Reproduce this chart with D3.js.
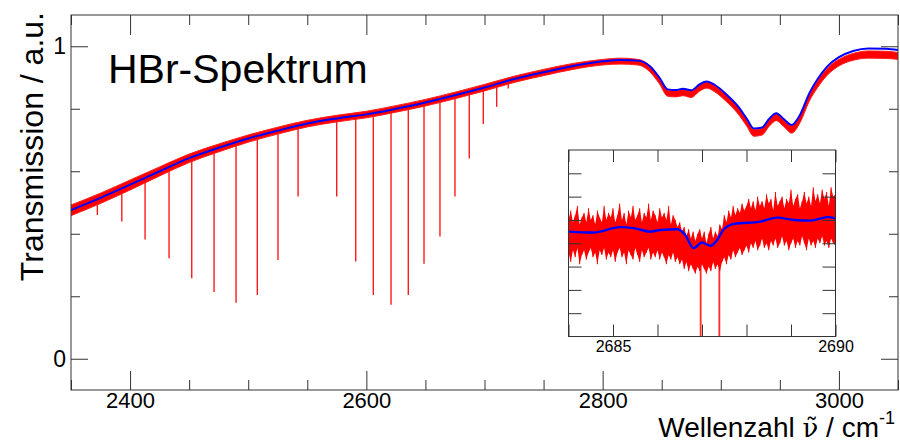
<!DOCTYPE html>
<html>
<head>
<meta charset="utf-8">
<script src="https://cdn.jsdelivr.net/npm/d3@7"></script>
<style>
body { margin: 0; background: #fff; }
text { font-family: "Liberation Sans", Arial, sans-serif; fill: #000; }
.axis path { display: none; }
.axis line { stroke: #333; }
</style>
</head>
<body>
<div id="chart"></div>
<script>
// main spectrum
var mainNu = [2350, 2375, 2400, 2425, 2450, 2475, 2500, 2525, 2550, 2575, 2600, 2625, 2650, 2675, 2700, 2725, 2750, 2775, 2800, 2815, 2830, 2840, 2848, 2855, 2862, 2868, 2875, 2882, 2888, 2895, 2905, 2915, 2922, 2928, 2935, 2941, 2947, 2953, 2960, 2967, 2975, 2982, 2990, 3000, 3012, 3025, 3040, 3050];
var blueT = [0.476, 0.515, 0.557, 0.600, 0.642, 0.675, 0.705, 0.730, 0.753, 0.769, 0.782, 0.800, 0.820, 0.843, 0.868, 0.895, 0.917, 0.937, 0.952, 0.956, 0.954, 0.936, 0.900, 0.862, 0.860, 0.864, 0.859, 0.878, 0.887, 0.876, 0.845, 0.806, 0.768, 0.737, 0.740, 0.768, 0.786, 0.768, 0.748, 0.780, 0.850, 0.895, 0.935, 0.965, 0.985, 0.993, 0.992, 0.988];
var redHi = [0.492, 0.530, 0.572, 0.614, 0.655, 0.687, 0.716, 0.741, 0.763, 0.779, 0.792, 0.810, 0.830, 0.853, 0.878, 0.904, 0.926, 0.945, 0.958, 0.962, 0.958, 0.938, 0.900, 0.860, 0.858, 0.862, 0.857, 0.876, 0.885, 0.874, 0.842, 0.803, 0.765, 0.734, 0.737, 0.765, 0.783, 0.765, 0.745, 0.777, 0.846, 0.890, 0.929, 0.958, 0.977, 0.985, 0.984, 0.980];
var redLo = [0.458, 0.497, 0.540, 0.585, 0.628, 0.662, 0.693, 0.719, 0.742, 0.758, 0.771, 0.789, 0.809, 0.832, 0.857, 0.884, 0.906, 0.926, 0.940, 0.943, 0.940, 0.918, 0.880, 0.840, 0.838, 0.842, 0.836, 0.856, 0.866, 0.854, 0.822, 0.782, 0.744, 0.712, 0.716, 0.744, 0.762, 0.744, 0.722, 0.755, 0.825, 0.868, 0.907, 0.937, 0.955, 0.962, 0.961, 0.958];

// absorption lines: position and lowest transmission
var lineNu = [2372.3, 2393.0, 2412.7, 2433.0, 2452.2, 2471.1, 2489.7, 2507.7, 2525.2, 2542.2, 2574.9, 2591.0, 2605.9, 2620.9, 2635.5, 2648.8, 2662.3, 2675.0, 2687.1, 2699.0, 2710.3, 2720.1];
var lineMin = [0.46, 0.439, 0.382, 0.322, 0.258, 0.214, 0.179, 0.204, 0.316, 0.519, 0.519, 0.311, 0.204, 0.173, 0.204, 0.304, 0.391, 0.519, 0.641, 0.751, 0.806, 0.865];

// inset (zoom on 2684 - 2690)
var insetBlueNu = [2684.0, 2684.56, 2685.16, 2685.46, 2685.84, 2686.06, 2686.44, 2686.62, 2686.81, 2687.0, 2687.19, 2687.34, 2687.49, 2687.72, 2688.32, 2688.69, 2689.07, 2689.44, 2689.82, 2690.0];
var insetBlueT = [0.855, 0.8546, 0.8569, 0.8565, 0.855, 0.8557, 0.856, 0.8536, 0.8479, 0.8503, 0.8489, 0.8514, 0.856, 0.8583, 0.8593, 0.861, 0.860, 0.8597, 0.8612, 0.8607];
// noisy measurement, sampled every 0.05 cm-1 from 2684
var insetHi = [0.860, 0.864, 0.859, 0.862, 0.866, 0.858, 0.861, 0.863, 0.859, 0.865,
	0.860, 0.862, 0.858, 0.864, 0.861, 0.859, 0.866, 0.860, 0.863, 0.861,
	0.865, 0.859, 0.862, 0.867, 0.860, 0.863, 0.858, 0.864, 0.861, 0.866,
	0.860, 0.862, 0.865, 0.859, 0.863, 0.861, 0.867, 0.860, 0.864, 0.862,
	0.859, 0.865, 0.861, 0.863, 0.860, 0.866, 0.858, 0.862, 0.860, 0.857,
	0.859, 0.855, 0.857, 0.853, 0.856, 0.852, 0.855, 0.851, 0.854, 0.856,
	0.852, 0.855, 0.850, 0.854, 0.857, 0.852, 0.855, 0.853, 0.858, 0.856,
	0.862, 0.859, 0.864, 0.861, 0.866, 0.862, 0.865, 0.863, 0.867, 0.864,
	0.866, 0.869, 0.865, 0.868, 0.864, 0.870, 0.866, 0.868, 0.865, 0.871,
	0.867, 0.869, 0.864, 0.872, 0.866, 0.868, 0.870, 0.865, 0.869, 0.867,
	0.873, 0.866, 0.869, 0.871, 0.865, 0.868, 0.872, 0.867, 0.870, 0.866,
	0.874, 0.868, 0.871, 0.867, 0.873, 0.869, 0.872, 0.866, 0.874, 0.870, 0.871];
var insetLo = [0.846, 0.842, 0.847, 0.844, 0.848, 0.841, 0.845, 0.847, 0.843, 0.846,
	0.848, 0.844, 0.846, 0.841, 0.847, 0.845, 0.848, 0.843, 0.846, 0.844,
	0.847, 0.842, 0.846, 0.848, 0.844, 0.846, 0.841, 0.847, 0.845, 0.843,
	0.848, 0.845, 0.842, 0.847, 0.844, 0.846, 0.848, 0.843, 0.846, 0.844,
	0.847, 0.843, 0.846, 0.844, 0.841, 0.845, 0.843, 0.846, 0.842, 0.844,
	0.841, 0.843, 0.839, 0.842, 0.838, 0.841, 0.839, 0.837, 0.840, 0.838,
	0.841, 0.839, 0.837, 0.840, 0.838, 0.842, 0.839, 0.841, 0.838, 0.842,
	0.844, 0.841, 0.845, 0.843, 0.847, 0.844, 0.846, 0.848, 0.845, 0.847,
	0.849, 0.846, 0.850, 0.848, 0.851, 0.847, 0.849, 0.852, 0.848, 0.850,
	0.847, 0.851, 0.849, 0.852, 0.848, 0.850, 0.853, 0.849, 0.851, 0.847,
	0.850, 0.852, 0.848, 0.851, 0.849, 0.853, 0.850, 0.847, 0.852, 0.849,
	0.851, 0.848, 0.852, 0.850, 0.853, 0.849, 0.851, 0.848, 0.852, 0.850, 0.849];
var insetNu = insetHi.map(function(d, i) { return 2684 + i * 0.05; });
var insetLineNu = [2686.97, 2687.39];

var xMajor = [2400, 2600, 2800, 3000];
var xMinor = [2350, 2450, 2500, 2550, 2650, 2700, 2750, 2850, 2900, 2950, 3050];
var yMajor = [0, 1];
var yMinor = [0.2, 0.4, 0.6, 0.8];
var insetXTicks = [2684, 2685, 2686, 2687, 2688, 2689, 2690];
var insetXLabels = [2685, 2690];
var insetYTicks = [0.82, 0.83, 0.84, 0.85, 0.86, 0.87, 0.88];

var W = 900, H = 444;
var plot = {left: 71, right: 898, top: 15, bottom: 390};
var ins = {left: 568.5, right: 835.5, top: 150, bottom: 336.5};

var x = d3.scaleLinear().domain([2350, 3050]).range([plot.left, plot.right]);
var y = d3.scaleLinear().domain([-0.1, 1.1]).range([plot.bottom, plot.top]);
var xi = d3.scaleLinear().domain([2684, 2690]).range([ins.left, ins.right]);
var yi = d3.scaleLinear().domain([0.81, 0.89]).range([ins.bottom, ins.top]);

var baseAt = d3.scaleLinear().domain(mainNu).range(blueT);
var insetBaseAt = d3.scaleLinear().domain(insetBlueNu).range(insetBlueT);

var svg = d3.select("#chart").append("svg")
	.attr("width", W).attr("height", H);

var defs = svg.append("defs");
defs.append("clipPath").attr("id", "clipMain").append("rect")
	.attr("x", plot.left).attr("y", plot.top)
	.attr("width", plot.right - plot.left).attr("height", plot.bottom - plot.top);
defs.append("clipPath").attr("id", "clipInset").append("rect")
	.attr("x", ins.left).attr("y", ins.top)
	.attr("width", ins.right - ins.left).attr("height", ins.bottom - ins.top);

// main data
var gm = svg.append("g").attr("clip-path", "url(#clipMain)");
var idx = d3.range(mainNu.length);

gm.selectAll(".absline").data(lineNu).enter().append("line")
	.attr("x1", function(d) { return x(d); }).attr("x2", function(d) { return x(d); })
	.attr("y1", function(d) { return y(baseAt(d)); })
	.attr("y2", function(d, i) { return y(lineMin[i]); })
	.style("stroke", "#ff1a1a").style("stroke-width", 1.4);

gm.append("path").datum(idx)
	.attr("d", d3.area()
		.x(function(i) { return x(mainNu[i]); })
		.y0(function(i) { return y(redLo[i]); })
		.y1(function(i) { return y(redHi[i]); })
		.curve(d3.curveMonotoneX))
	.style("fill", "#ff0000").style("stroke", "#ff2020").style("stroke-width", 1);

gm.append("path").datum(idx)
	.attr("d", d3.line()
		.x(function(i) { return x(mainNu[i]); })
		.y(function(i) { return y(blueT[i]); })
		.curve(d3.curveMonotoneX))
	.style("fill", "none").style("stroke", "#0000ff").style("stroke-width", 2);

// axes helper
function axisGroup(axis, tx, ty) {
	var g = svg.append("g").attr("class", "axis")
		.attr("transform", "translate(" + tx + "," + ty + ")")
		.call(axis);
	g.selectAll("text").style("font-family", "'Liberation Sans', Arial, sans-serif");
	return g;
}

// main frame and ticks
axisGroup(d3.axisBottom(x).tickValues(xMajor).tickSize(-19).tickPadding(2).tickFormat(d3.format("d")), 0, plot.bottom)
	.selectAll("text").style("font-size", "22px");
axisGroup(d3.axisBottom(x).tickValues(xMinor).tickSize(-10).tickFormat(""), 0, plot.bottom);
axisGroup(d3.axisTop(x).tickValues(xMajor).tickSize(-20).tickFormat(""), 0, plot.top);
axisGroup(d3.axisTop(x).tickValues(xMinor).tickSize(-10).tickFormat(""), 0, plot.top);
axisGroup(d3.axisLeft(y).tickValues(yMajor).tickSize(-17).tickPadding(5).tickFormat(d3.format("d")), plot.left, 0)
	.selectAll("text").style("font-size", "23px");
axisGroup(d3.axisLeft(y).tickValues(yMinor).tickSize(-9).tickFormat(""), plot.left, 0);
axisGroup(d3.axisRight(y).tickValues(yMajor).tickSize(-17).tickFormat(""), plot.right, 0);
axisGroup(d3.axisRight(y).tickValues(yMinor).tickSize(-9).tickFormat(""), plot.right, 0);

svg.append("rect")
	.attr("x", plot.left).attr("y", plot.top)
	.attr("width", plot.right - plot.left).attr("height", plot.bottom - plot.top)
	.style("fill", "none").style("stroke", "#333").style("stroke-width", 1);

// inset
svg.append("rect")
	.attr("x", ins.left).attr("y", ins.top)
	.attr("width", ins.right - ins.left).attr("height", ins.bottom - ins.top)
	.style("fill", "#fff");

var gi = svg.append("g").attr("clip-path", "url(#clipInset)");
var iidx = d3.range(insetNu.length);

gi.selectAll(".insline").data(insetLineNu).enter().append("line")
	.attr("x1", function(d) { return xi(d); }).attr("x2", function(d) { return xi(d); })
	.attr("y1", function(d) { return yi(insetBaseAt(d)); })
	.attr("y2", yi(0.80))
	.style("stroke", "#ff2a2a").style("stroke-width", 1.8);

gi.append("path").datum(iidx)
	.attr("d", d3.area()
		.x(function(i) { return xi(insetNu[i]); })
		.y0(function(i) { return yi(insetLo[i]); })
		.y1(function(i) { return yi(insetHi[i]); }))
	.style("fill", "#ff0000").style("stroke", "none");

gi.selectAll(".noise").data(iidx).enter().append("line")
	.attr("x1", function(i) { return xi(insetNu[i]); }).attr("x2", function(i) { return xi(insetNu[i]); })
	.attr("y1", function(i) { return yi(insetLo[i]); })
	.attr("y2", function(i) { return yi(insetHi[i]); })
	.style("stroke", "#ff0000")
	.style("stroke-width", 1);

gi.append("path").datum(d3.range(insetBlueNu.length))
	.attr("d", d3.line()
		.x(function(i) { return xi(insetBlueNu[i]); })
		.y(function(i) { return yi(insetBlueT[i]); })
		.curve(d3.curveMonotoneX))
	.style("fill", "none").style("stroke", "#0000ff").style("stroke-width", 2.4);

axisGroup(d3.axisBottom(xi).tickValues(insetXTicks).tickSize(-12).tickFormat(""), 0, ins.bottom);
axisGroup(d3.axisBottom(xi).tickValues(insetXLabels).tickSize(0).tickPadding(4).tickFormat(d3.format("d")), 0, ins.bottom)
	.selectAll("text").style("font-size", "16px");
axisGroup(d3.axisTop(xi).tickValues(insetXTicks).tickSize(-12).tickFormat(""), 0, ins.top);
axisGroup(d3.axisLeft(yi).tickValues(insetYTicks).tickSize(-13).tickFormat(""), ins.left, 0);
axisGroup(d3.axisRight(yi).tickValues(insetYTicks).tickSize(-13).tickFormat(""), ins.right, 0);

svg.append("rect")
	.attr("x", ins.left).attr("y", ins.top)
	.attr("width", ins.right - ins.left).attr("height", ins.bottom - ins.top)
	.style("fill", "none").style("stroke", "#333").style("stroke-width", 1);

// texts
svg.append("text").attr("x", 108).attr("y", 83)
	.style("font-size", "41px").text("HBr-Spektrum");

svg.append("text").attr("transform", "rotate(-90)")
	.attr("x", -12).attr("y", 43)
	.attr("text-anchor", "end").style("font-size", "32px")
	.text("Transmission / a.u.");

// x title, nu with combining tilde
var xl = svg.append("text").attr("x", 895).attr("y", 437)
	.attr("text-anchor", "end").style("font-size", "28px");
xl.append("tspan").text("Wellenzahl ");
xl.append("tspan").style("font-family", "'DejaVu Serif', serif").style("font-size", "26px").text("\u03BD\u0303");
xl.append("tspan").text(" / cm");
xl.append("tspan").attr("dy", -13).style("font-size", "18px").text("-1");
</script>
</body>
</html>
